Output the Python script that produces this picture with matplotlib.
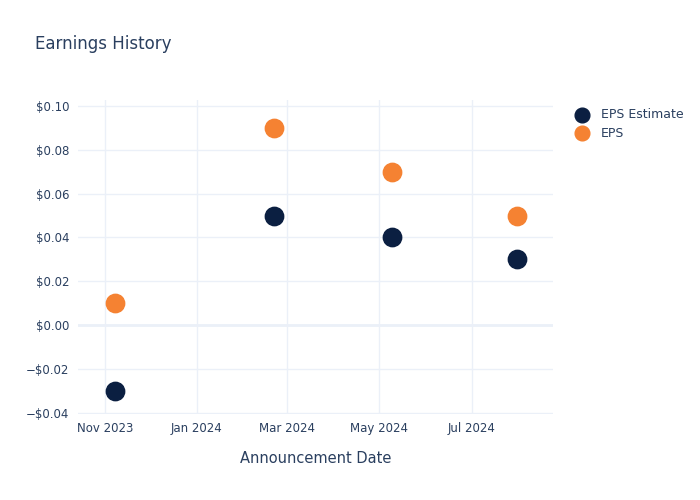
import pandas as pd
import matplotlib.pyplot as plt
import matplotlib.dates as mdates
from matplotlib.ticker import FuncFormatter, MultipleLocator

dates = pd.to_datetime(["2023-11-08", "2024-02-21", "2024-05-09", "2024-07-31"])
eps_estimate = [-0.03, 0.05, 0.04, 0.03]
eps_actual = [0.01, 0.09, 0.07, 0.05]

text_col = "#2a3f5f"
grid_col = "#ebf0f8"

fig = plt.figure(figsize=(7, 5), dpi=100)
ax = fig.add_axes([0.111, 0.172, 0.679, 0.628])

ax.scatter(dates, eps_estimate, s=175, color="#0b1f41", label="EPS Estimate", zorder=3)
ax.scatter(dates, eps_actual, s=175, color="#f58232", label="EPS", zorder=3)

ax.set_xlim(pd.Timestamp("2023-10-14"), pd.Timestamp("2024-08-24"))
ax.set_ylim(-0.0405, 0.1027)

ax.xaxis.set_major_locator(mdates.MonthLocator(bymonth=[1, 3, 5, 7, 11]))
ax.xaxis.set_major_formatter(mdates.DateFormatter("%b %Y"))
ax.yaxis.set_major_locator(MultipleLocator(0.02))

def money(v, pos):
    s = "${:.2f}".format(abs(v))
    return ("\u2212" + s) if v < -1e-9 else s

ax.yaxis.set_major_formatter(FuncFormatter(money))

ax.grid(True, color=grid_col, linewidth=1)
ax.axhline(0, color=grid_col, linewidth=2, zorder=1)
ax.set_axisbelow(True)
for sp in ax.spines.values():
    sp.set_visible(False)
ax.tick_params(length=0, labelsize=8.5, colors=text_col, pad=6)

ax.set_xlabel("Announcement Date", fontsize=10.5, color=text_col, labelpad=11)
fig.text(0.05, 0.912, "Earnings History", fontsize=12, color=text_col, va="center")

leg = ax.legend(loc="upper left", bbox_to_anchor=(0.807, 0.794), bbox_transform=fig.transFigure,
                frameon=False, fontsize=9, handletextpad=0.5, labelspacing=0.45,
                markerscale=0.8, borderaxespad=0)
for t in leg.get_texts():
    t.set_color(text_col)

fig.savefig("out.png", dpi=100)
